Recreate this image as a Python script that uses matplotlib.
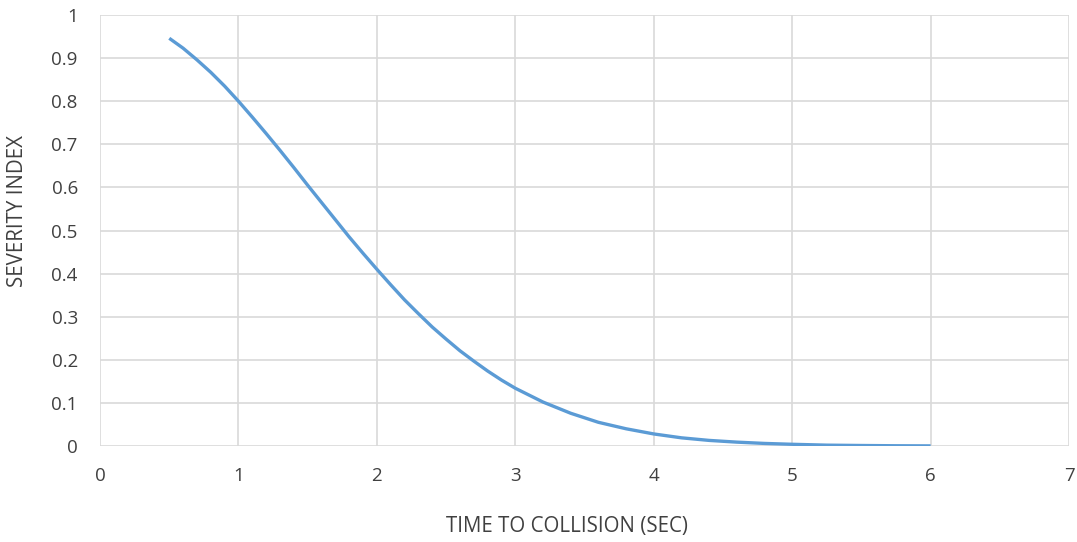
import matplotlib
matplotlib.use("Agg")
import matplotlib.pyplot as plt

# values
ttc = [0.5, 0.6, 0.7, 0.8, 0.9, 1.0, 1.1, 1.2, 1.3, 1.4, 1.5, 1.6, 1.7, 1.8,
       1.9, 2.0, 2.1, 2.2, 2.3, 2.4, 2.5, 2.6, 2.7, 2.8, 2.9, 3.0, 3.2, 3.4,
       3.6, 3.8, 4.0, 4.2, 4.4, 4.6, 4.8, 5.0, 5.25, 5.5, 5.75, 6.0]
severity = [0.946, 0.923, 0.896, 0.867, 0.835, 0.800, 0.763, 0.725, 0.686,
            0.646, 0.605, 0.565, 0.525, 0.485, 0.447, 0.410, 0.374, 0.339,
            0.307, 0.276, 0.248, 0.221, 0.197, 0.174, 0.153, 0.134, 0.102,
            0.076, 0.055, 0.040, 0.028, 0.019, 0.013, 0.009, 0.006, 0.004,
            0.002, 0.0012, 0.0006, 0.0003]
xticks = [0, 1, 2, 3, 4, 5, 6, 7]
yticks = [0, 0.1, 0.2, 0.3, 0.4, 0.5, 0.6, 0.7, 0.8, 0.9, 1]
ytick_labels = ["0", "0.1", "0.2", "0.3", "0.4", "0.5", "0.6", "0.7", "0.8", "0.9", "1"]

plt.rcParams["font.family"] = ["Open Sans", "DejaVu Sans"]
txt = "#404040"
grid = "#d9d9d9"

fig = plt.figure(figsize=(10.77, 5.42), dpi=100)
ax = fig.add_axes([0.0929, 0.1771, 0.8997, 0.7952])
ax.plot(ttc, severity, color="#5b9bd5", lw=2.4, solid_capstyle="butt",
        solid_joinstyle="round", zorder=3)

ax.set_xlim(0, 7)
ax.set_ylim(0, 1)
ax.set_xticks(xticks)
ax.set_yticks(yticks)
ax.set_yticklabels(ytick_labels)
ax.grid(True, color=grid, lw=1.2)
for s in ax.spines.values():
    s.set_visible(False)
ax.tick_params(length=0, labelsize=13.5, colors=txt)
ax.tick_params(axis="y", pad=16)
ax.tick_params(axis="x", pad=15)

# Excel places the axis titles slightly off the plot-area centre
ax.set_xlabel("TIME TO COLLISION (SEC)", fontsize=14.8, color=txt)
ax.xaxis.set_label_coords(0.482, -0.163)
ax.set_ylabel("SEVERITY INDEX", fontsize=14.8, color=txt)
ax.yaxis.set_label_coords(-0.074, 0.545)

fig.savefig("out.png", dpi=100)
